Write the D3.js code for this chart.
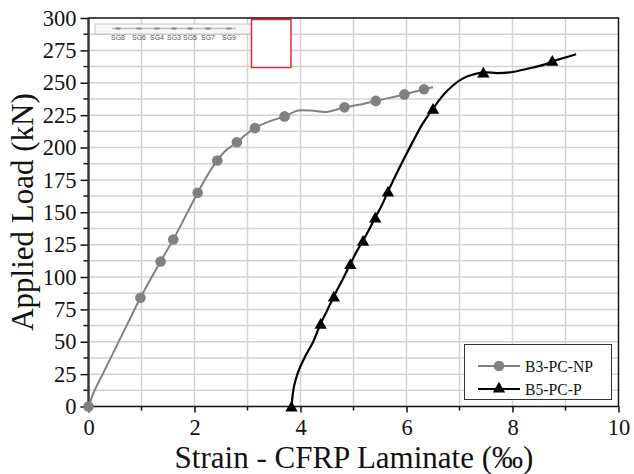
<!DOCTYPE html>
<html><head><meta charset="utf-8"><script src="https://cdn.jsdelivr.net/npm/d3@7"></script>
<style>html,body{margin:0;background:#fff}svg{display:block}text{font-family:"Liberation Serif",serif;fill:#111}</style></head>
<body><svg id="c" width="634" height="474"></svg>
<script>
const xMajor=[0,2,4,6,8,10];
const yMajor=[0,25,50,75,100,125,150,175,200,225,250,275,300];
const sgLabels=["SG8","SG6","SG4","SG3","SG5","SG7","SG9"];
const sgX=[118,139,157,174,190,208,229];
const grayLine=[[0,0],[0.1,11],[0.28,26],[0.75,65],[0.98,84],[1.36,112],[1.6,129],[2.06,165],[2.25,179],[2.43,190],[2.6,198],[2.8,204],[2.97,210],[3.14,215],[3.4,220],[3.7,224],[3.95,228.5],[4.2,228.5],[4.5,227.5],[4.83,231],[5.1,233],[5.42,236],[5.7,238.5],[5.96,241],[6.15,243],[6.33,245],[6.5,246.5]];
const grayMarks=[[0,0],[0.98,84],[1.36,112],[1.6,129],[2.06,165],[2.43,190],[2.8,204],[3.14,215],[3.7,224],[4.83,231],[5.42,236],[5.96,241],[6.33,245]];
const blackLine=[[3.83,0],[3.85,8],[3.88,16],[3.95,26],[4.08,38],[4.24,50],[4.38,64],[4.5,74],[4.63,85],[4.78,97],[4.94,110],[5.05,119],[5.18,128],[5.3,137],[5.41,146],[5.53,155],[5.65,166],[5.85,183],[6.1,203],[6.3,218],[6.5,230],[6.75,243],[7.05,253],[7.45,258],[7.7,257.5],[7.95,258],[8.3,261],[8.6,264],[8.75,266.5],[9.0,269.5],[9.2,272]];
const blackMarks=[[3.83,0],[4.38,64],[4.63,85],[4.94,110],[5.18,128],[5.41,146],[5.65,166],[6.5,230],[7.45,258],[8.75,267]];
const legendLabels=["B3-PC-NP","B5-PC-P"];
const xTitle="Strain - CFRP Laminate (‰)",yTitle="Applied Load (kN)";

const svg=d3.select("#c");
const x=d3.scaleLinear().domain([0,10]).range([88.5,618.5]);
const y=d3.scaleLinear().domain([0,300]).range([406.5,18]);
const gridC="#d2d2d2";
const g=svg.append("g");
g.selectAll("line.v").data(d3.range(1,10)).join("line").attr("x1",d=>x(d)).attr("x2",d=>x(d)).attr("y1",y(300)).attr("y2",y(0)).attr("stroke",gridC).attr("stroke-width",1.5);
g.selectAll("line.h").data(d3.range(12.5,300,12.5)).join("line").attr("y1",d=>y(d)).attr("y2",d=>y(d)).attr("x1",x(0)).attr("x2",x(10)).attr("stroke",gridC).attr("stroke-width",1.5);

// inset strip & red box
svg.append("rect").attr("x",95).attr("y",24).attr("width",158).attr("height",10).attr("fill","#f7f7f7").attr("stroke","#c4c4c4");
svg.append("line").attr("x1",112).attr("x2",236).attr("y1",28.5).attr("y2",28.5).attr("stroke","#c0c0c0").attr("stroke-width",1.5);
svg.selectAll("text.sg").data(sgLabels).join("text").attr("x",(d,i)=>sgX[i]).attr("y",40).attr("text-anchor","middle").style("font-family","Liberation Sans").style("font-size","7px").style("fill","#555").text(d=>d);
svg.selectAll("rect.st").data(sgX).join("rect").attr("x",d=>d-2.5).attr("y",27.5).attr("width",5).attr("height",2).attr("fill","#888");
svg.append("rect").attr("x",251.5).attr("y",19.5).attr("width",39.5).attr("height",48).attr("fill","#fff").attr("stroke","#e8282f").attr("stroke-width",1.5);

// axes
const xa=d3.axisBottom(x).tickValues(xMajor).tickSize(6).tickFormat(d3.format("d"));
const ya=d3.axisLeft(y).tickValues(yMajor).tickSize(8).tickFormat(d3.format("d"));
const ag=svg.append("g").attr("transform",`translate(0,${y(0)})`).call(xa);
const bg=svg.append("g").attr("transform",`translate(${x(0)},0)`).call(ya);
[ag,bg].forEach(s=>{s.selectAll("path").remove();s.selectAll("line").attr("stroke","#111").attr("stroke-width",1.5);s.selectAll("text").style("font-size","22.5px").style("font-family","Liberation Serif").attr("fill","#111");});
ag.selectAll("text").attr("y",13);
bg.selectAll("text").attr("x",-12);
svg.selectAll("line.mx").data(d3.range(1,10,2)).join("line").attr("x1",d=>x(d)).attr("x2",d=>x(d)).attr("y1",y(0)).attr("y2",y(0)+4).attr("stroke","#111").attr("stroke-width",1.5);
svg.selectAll("line.my").data(d3.range(12.5,300,25)).join("line").attr("y1",d=>y(d)).attr("y2",d=>y(d)).attr("x1",x(0)).attr("x2",x(0)-5).attr("stroke","#111").attr("stroke-width",1.5);
svg.append("path").attr("d",`M${x(0)},${y(300)}H${x(10)}V${y(0)}H${x(0)}Z`).attr("fill","none").attr("stroke","#111").attr("stroke-width",1.5);
svg.append("line").attr("x1",x(0)).attr("x2",x(0)).attr("y1",y(300)).attr("y2",y(0)).attr("stroke","#333").attr("stroke-width",2.2);

// series
const lc=d3.line().x(d=>x(d[0])).y(d=>y(d[1])).curve(d3.curveCatmullRom.alpha(0.5));
svg.append("path").attr("d",lc(grayLine)).attr("fill","none").attr("stroke","#808080").attr("stroke-width",2);
svg.selectAll("circle.m").data(grayMarks).join("circle").attr("cx",d=>x(d[0])).attr("cy",d=>y(d[1])).attr("r",5.3).attr("fill","#808080");
svg.append("path").attr("d",lc(blackLine)).attr("fill","none").attr("stroke","#000").attr("stroke-width",2.2);
const tri=d3.symbol().type(d3.symbolTriangle).size(66);
svg.selectAll("path.t").data(blackMarks).join("path").attr("d",tri).attr("transform",d=>`translate(${x(d[0])},${y(d[1])+1.5})`).attr("fill","#000");

// legend
svg.append("rect").attr("x",464.5).attr("y",344.5).attr("width",147).attr("height",55).attr("fill","#fff").attr("stroke","#333").attr("stroke-width",1);
const ly=[366,389];
legendLabels.forEach((t,i)=>{
  svg.append("line").attr("x1",478).attr("x2",520).attr("y1",ly[i]).attr("y2",ly[i]).attr("stroke",i?"#000":"#808080").attr("stroke-width",2);
  if(i) svg.append("path").attr("d",tri).attr("transform",`translate(499,${ly[i]})`).attr("fill","#000");
  else svg.append("circle").attr("cx",499).attr("cy",ly[i]).attr("r",5.3).attr("fill","#808080");
  svg.append("text").attr("x",525).attr("y",ly[i]+5.5).style("font-size","15.7px").text(t);
});
// titles
svg.append("text").attr("x",354).attr("y",468).attr("text-anchor","middle").style("font-size","31px").text(xTitle);
svg.append("text").attr("transform","translate(33,212) rotate(-90)").attr("text-anchor","middle").style("font-size","31px").text(yTitle);
</script></body></html>
